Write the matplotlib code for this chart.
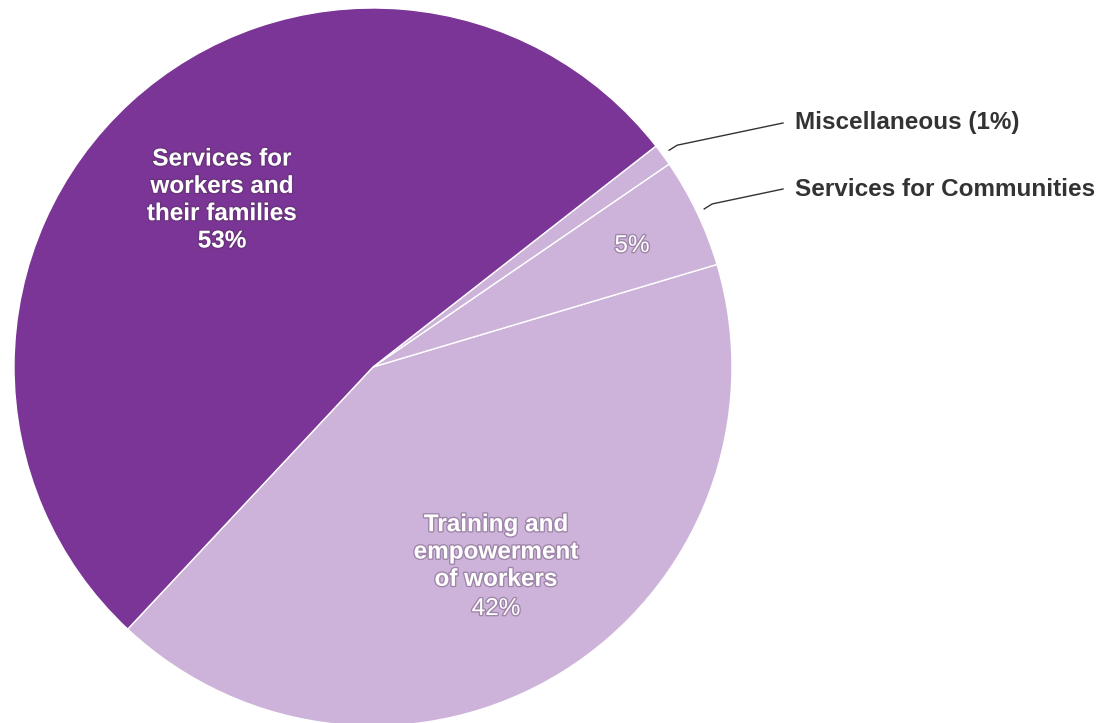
import matplotlib
matplotlib.use("Agg")
import matplotlib.pyplot as plt
import matplotlib.patheffects as pe
import numpy as np

# ─── Data ────────────────────────────────────────────────────────────
categories = [
    "Training and empowerment of workers",
    "Services for Communities",
    "Miscellaneous",
    "Services for workers and their families",
]
shares = [42, 5, 1, 53]
colors = ["#cdb3d9", "#cdb3d9", "#cdb3d9", "#7b3596"]

W, H = 1103, 723
fig = plt.figure(figsize=(W / 100, H / 100), dpi=100)
ax = fig.add_axes([0, 0, 1, 1])

cx, cy, r = 373, H - 367, 359
wedges, _ = ax.pie(
    shares, colors=colors, startangle=226.9, counterclock=True,
    center=(cx, cy), radius=r, frame=True,
    wedgeprops=dict(edgecolor="white", linewidth=1.0),
)
ax.set_xlim(0, W)
ax.set_ylim(0, H)
ax.set_aspect("equal")
ax.axis("off")

font = "Liberation Sans"
fs = 17.5
ls = 1.24
halo = [pe.withStroke(linewidth=2, foreground="#4a3050", alpha=0.35)]

ax.text(222, H - 200, "Services for\nworkers and\ntheir families\n53%",
        ha="center", va="center", color="white", fontsize=fs,
        fontweight="bold", family=font, linespacing=ls, path_effects=halo)

ax.text(496, H - 552, "Training and\nempowerment\nof workers",
        ha="center", va="center", color="white", fontsize=fs,
        fontweight="bold", family=font, linespacing=ls, path_effects=halo)
ax.text(496, H - 609, "42%", ha="center", va="center", color="white",
        fontsize=fs, family=font, path_effects=halo)

ax.text(632, H - 246, "5%", ha="center", va="center", color="white",
        fontsize=fs, family=font, path_effects=halo)

# ── Outside labels with leader lines ──
def leader(idx, label, x_text, y_text):
    w = wedges[idx]
    mid = np.deg2rad((w.theta1 + w.theta2) / 2)
    x0 = cx + (r + 8) * np.cos(mid)
    y0 = cy + (r + 8) * np.sin(mid)
    ax.plot([x0, x0 + 8, x_text - 12], [y0, y0 + 5, y_text],
            color="#333333", linewidth=1)
    ax.text(x_text, y_text, label, ha="left", va="center", color="#333333",
            fontsize=fs, fontweight="bold", family=font)

leader(2, "Miscellaneous (1%)", 795, H - 123)
leader(1, "Services for Communities", 795, H - 189)

fig.savefig("out.png", dpi=100)
